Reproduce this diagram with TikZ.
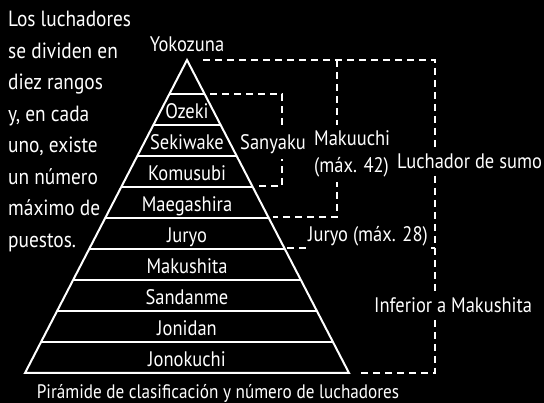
\documentclass[tikz,border=0pt]{standalone}
\usepackage{fontspec}
\setmainfont{PT Sans}[FakeStretch = 0.88]
\usetikzlibrary{calc, positioning}

\begin{document}
\begin{tikzpicture}[x = 1pt, y = -1pt,
		txt/.style = { text = white, inner sep = 0pt, font = \fontsize{21}{31.5}\selectfont },
		rank/.style = { txt, anchor = base },
		group/.style = { txt, anchor = base west, fill = black, inner xsep = 1pt, inner ysep = 5pt },
		tier/.style = { draw = white, line width = 2pt },
		bracket/.style = { draw = white, line width = 1.5pt, dash pattern = on 7pt off 5pt }]
		\fill [black] (0, 0) rectangle (544, 403);
		\useasboundingbox (0, 0) rectangle (544, 403);

		\node [txt, anchor = north west, align = left, font = \fontsize{22}{31.5}\selectfont] (intro) at (8, 11) {Los luchadores\\se dividen en\\diez rangos\\y, en cada\\uno, existe\\un número\\máximo de\\puestos.};

		% pyramid
		\coordinate (apex) at (187, 60);
		\coordinate (bl)   at (25, 373);
		\coordinate (br)   at (349, 373);
		\draw [tier, line join = miter] (bl) -- (apex) -- (br) -- cycle;

		\draw [tier] ($(apex)!34/313!(bl)$)  -- ($(apex)!34/313!(br)$);
		\draw [tier] ($(apex)!65/313!(bl)$)  -- ($(apex)!65/313!(br)$);
		\draw [tier] ($(apex)!96/313!(bl)$)  -- ($(apex)!96/313!(br)$);
		\draw [tier] ($(apex)!127/313!(bl)$) -- ($(apex)!127/313!(br)$);
		\draw [tier] ($(apex)!158/313!(bl)$) -- ($(apex)!158/313!(br)$);
		\draw [tier] ($(apex)!189/313!(bl)$) -- ($(apex)!189/313!(br)$);
		\draw [tier] ($(apex)!220/313!(bl)$) -- ($(apex)!220/313!(br)$);
		\draw [tier] ($(apex)!251/313!(bl)$) -- ($(apex)!251/313!(br)$);
		\draw [tier] ($(apex)!282/313!(bl)$) -- ($(apex)!282/313!(br)$);

		\node [txt] (yokozuna) at (187, 44) {Yokozuna};
		\node [rank] (ozeki)      at (187, 119) {Ozeki};
		\node [rank] (sekiwake)   at (187, 150) {Sekiwake};
		\node [rank] (komusubi)   at (187, 181) {Komusubi};
		\node [rank] (maegashira) at (187, 212) {Maegashira};
		\node [rank] (juryo)      at (187, 243) {Juryo};
		\node [rank] (makushita)  at (187, 274) {Makushita};
		\node [rank] (sandanme)   at (187, 305) {Sandanme};
		\node [rank] (jonidan)    at (187, 336) {Jonidan};
		\node [rank] (jonokuchi)  at (187, 367) {Jonokuchi};

		% brackets
		\coordinate (sumoT)  at (203, 60);
		\coordinate (sumoNE) at (435, 60);
		\coordinate (sumoSE) at (435, 373);
		\coordinate (sumoB)  at (360, 373);
		\coordinate (makuN)  at (337, 60);
		\coordinate (makuS)  at (337, 217);
		\coordinate (makuB)  at (273, 217);
		\coordinate (sanT)   at (210, 94);
		\coordinate (sanNE)  at (282, 94);
		\coordinate (sanSE)  at (282, 186);
		\coordinate (sanB)   at (258, 186);
		\coordinate (juryoB) at (287, 248);
		\coordinate (juryoE) at (435, 248);

		\draw [bracket] (sumoT) -- (sumoNE) -- (sumoSE) -- (sumoB);
		\draw [bracket] (makuN) -- (makuS) -- (makuB);
		\draw [bracket] (sanT) -- (sanNE) -- (sanSE) -- (sanB);
		\draw [bracket] (juryoB) -- (juryoE);

		\node [group] (sanyaku)  at (239, 150) {Sanyaku};
		\node [group, anchor = north west, align = left, font = \fontsize{21}{27}\selectfont] (makuuchi) at (313, 125) {Makuuchi\\(máx. 42)};
		\node [group] (sumo)     at (396, 169) {Luchador de sumo};
		\node [group] (juryoMax) at (307, 242) {Juryo (máx. 28)};
		\node [group] (inferior) at (373, 313) {Inferior a Makushita};

		\node [txt, anchor = base, font = \fontsize{19.5}{24}\selectfont] (caption) at (218, 399) {Pirámide de clasificación y número de luchadores};
	\end{tikzpicture}
\end{document}
